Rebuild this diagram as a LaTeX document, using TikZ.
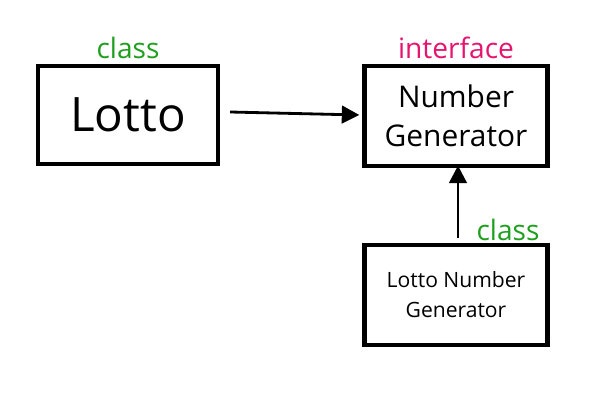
\documentclass[tikz,border=0pt]{standalone}
\usepackage{fontspec}
\setmainfont{Open Sans}
\usetikzlibrary{arrows.meta}
\definecolor{classgreen}{RGB}{30,160,30}
\definecolor{ifacepink}{RGB}{230,20,110}
\begin{document}
\begin{tikzpicture}[
    box/.style={draw, line width=2.4pt, minimum width=3.6cm, minimum height=1.96cm, align=center},
    stereo/.style={font=\fontsize{16}{19}\selectfont},
    link/.style={line width=1.6pt, -{Triangle[length=10pt,width=10pt]}}]
    \useasboundingbox (0,0) rectangle (12,8);

    % boxes
    \node[box, font=\fontsize{27}{32}\selectfont] (lotto) at (2.56,5.70) {Lotto};
    \node[box, minimum width=3.66cm, minimum height=2cm, font=\fontsize{17}{22}\selectfont] (gen) at (9.12,5.68) {Number\\Generator};
    \node[box, minimum width=3.66cm, minimum height=2cm, font=\fontsize{12}{17}\selectfont] (lottogen) at (9.12,2.10) {Lotto Number\\Generator};

    % stereotypes
    \node[stereo, text=classgreen] (lottoclass) at (2.56,7.04) {class};
    \node[stereo, text=ifacepink] (geniface) at (9.12,7.04) {interface};
    \node[stereo, text=classgreen] (lottogenclass) at (10.16,3.40) {class};

    % connectors
    \draw[link] ([xshift=0.2cm,yshift=0.06cm]lotto.east) -- ([xshift=-0.06cm,yshift=0.02cm]gen.west);
    \draw[link] ([xshift=0.04cm,yshift=0.1cm]lottogen.north) -- ([xshift=0.04cm,yshift=0.05cm]gen.south);
\end{tikzpicture}
\end{document}
